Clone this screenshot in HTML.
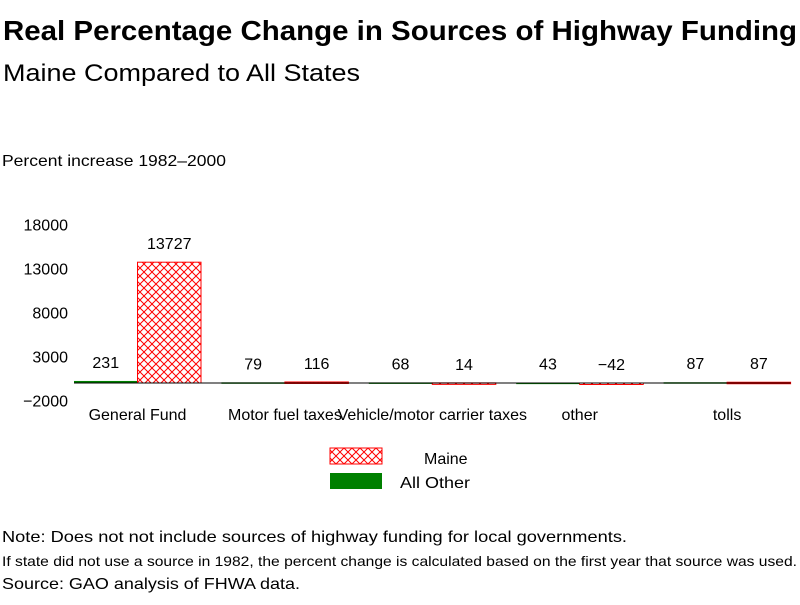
<!DOCTYPE html>
<html><head><meta charset="utf-8"><style>
body{margin:0;background:#fff;width:800px;height:600px;overflow:hidden;font-family:"Liberation Sans",sans-serif}
svg text{font-family:"Liberation Sans",sans-serif;fill:#000}
</style></head><body>
<svg id="c" width="800" height="600" xmlns="http://www.w3.org/2000/svg">
<defs><pattern id="xh" width="8" height="8" patternUnits="userSpaceOnUse"><path d="M0,0L8,8M8,0L0,8" stroke="#f00" stroke-width="1"/></pattern></defs>
<text x="3" y="40" font-size="28" font-weight="bold" textLength="794" lengthAdjust="spacingAndGlyphs">Real Percentage Change in Sources of Highway Funding</text>
<text x="3" y="81" font-size="24" textLength="357" lengthAdjust="spacingAndGlyphs">Maine Compared to All States</text>
<text x="2" y="166" font-size="16" textLength="224" lengthAdjust="spacingAndGlyphs">Percent increase 1982–2000</text>
<g id="plot"></g>
<rect x="330" y="448" width="52" height="16" fill="url(#xh)" stroke="#f00"/>
<text x="424" y="464" font-size="16">Maine</text>
<rect x="330" y="473" width="52" height="16" fill="#008000"/>
<text x="400" y="488" font-size="16" textLength="70" lengthAdjust="spacingAndGlyphs">All Other</text>
<text x="2" y="542" font-size="16" textLength="625" lengthAdjust="spacingAndGlyphs">Note: Does not not include sources of highway funding for local governments.</text>
<text x="2" y="566" font-size="14" textLength="795" lengthAdjust="spacingAndGlyphs">If state did not use a source in 1982, the percent change is calculated based on the first year that source was used.</text>
<text x="2" y="589" font-size="16" textLength="298" lengthAdjust="spacingAndGlyphs">Source: GAO analysis of FHWA data.</text>
</svg>
<script>
const categories=["General Fund","Motor fuel taxes","Vehicle/motor carrier taxes","other","tolls"];
const allOther=[231,79,68,43,87];
const maine=[13727,116,14,-42,87];
const yTicks=[18000,13000,8000,3000,-2000];
const NS="http://www.w3.org/2000/svg";
const g=document.getElementById("plot");
function y(v){return 383-v*0.0088;}
function mk(t,a){const e=document.createElementNS(NS,t);for(const k in a)e.setAttribute(k,a[k]);g.appendChild(e);return e;}
yTicks.forEach(v=>{const t=mk("text",{x:68,y:y(v)+6,"font-size":16,"text-anchor":"end"});t.textContent=String(v).replace("-","−");

});
const x0=74,gw=147.4,bw=63.5;
categories.forEach((c,i)=>{
 const gx=x0+i*gw;
 [[allOther[i],"#008000",gx,"all-other"],[maine[i],"url(#xh)",gx+bw,"maine"]].forEach(([v,f,bx,s])=>{
  const top=Math.min(y(v),y(0)),h=Math.max(Math.abs(y(v)-y(0)),1.5);
  const r=mk("rect",{x:bx,y:top,width:bw,height:h,fill:f});
  if(s==="maine")r.setAttribute("stroke","#f00");
  
  
  const ly=Math.min(y(Math.max(v,0)),y(0))-13;
  const t=mk("text",{x:bx+bw/2,y:ly,"font-size":16,"text-anchor":"middle"});
  t.textContent=String(v).replace("-","−");
  
  
 });
 const t=mk("text",{x:gx+bw,y:420,"font-size":16,"text-anchor":"middle"});t.textContent=c;
 
 
});
const bl=mk("line",{x1:x0,x2:x0+4*gw+2*bw,y1:y(0),y2:y(0),stroke:"#000","stroke-width":1});


</script>
</body></html>
